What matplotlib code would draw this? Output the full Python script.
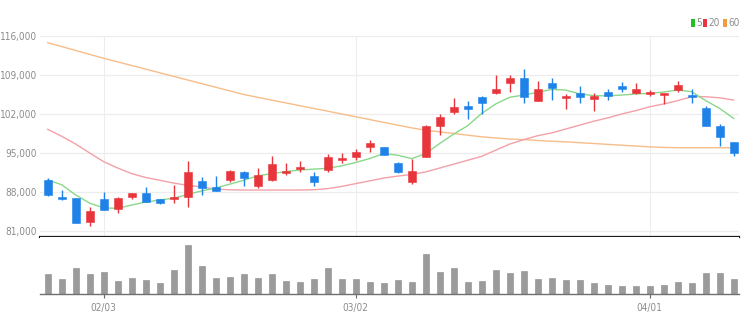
import matplotlib
matplotlib.use("Agg")
import matplotlib.pyplot as plt
from matplotlib import font_manager
from matplotlib.patches import Rectangle
import numpy as np

# ---- data -------------------------------------------------------------
dates = [
    "2022-01-25", "2022-01-26", "2022-01-27", "2022-01-28",
    "2022-02-03", "2022-02-04", "2022-02-07", "2022-02-08", "2022-02-09",
    "2022-02-10", "2022-02-11", "2022-02-14", "2022-02-15", "2022-02-16",
    "2022-02-17", "2022-02-18", "2022-02-21", "2022-02-22", "2022-02-23",
    "2022-02-24", "2022-02-25", "2022-02-28",
    "2022-03-02", "2022-03-03", "2022-03-04", "2022-03-07", "2022-03-08",
    "2022-03-10", "2022-03-11", "2022-03-14", "2022-03-15", "2022-03-16",
    "2022-03-17", "2022-03-18", "2022-03-21", "2022-03-22", "2022-03-23",
    "2022-03-24", "2022-03-25", "2022-03-28", "2022-03-29", "2022-03-30",
    "2022-03-31",
    "2022-04-01", "2022-04-04", "2022-04-05", "2022-04-06", "2022-04-07",
    "2022-04-08", "2022-04-11",
]

open_ = [90100, 87050, 86850, 82550, 86750, 84950, 87150, 87750, 86700, 86700,
         87150, 89950, 88950, 90150, 91650, 89100, 90150, 91450, 92200, 90850,
         91950, 93750, 94250, 96150, 96050, 93250, 89850, 94350, 99900, 102300,
         103500, 105000, 105800, 107600, 108400, 104400, 107500, 104800, 105800, 104750,
         105900, 107050, 105700, 105550, 105350, 106300, 105400, 103000, 99850, 96900]
high = [90500, 88350, 86900, 85250, 88050, 87150, 87900, 88950, 86800, 89250,
        93600, 90750, 90850, 91950, 91850, 92250, 94400, 93150, 93600, 91600,
        94900, 94950, 95650, 97350, 96150, 93300, 93850, 100100, 101950, 104800,
        104350, 105300, 109000, 109000, 110000, 107900, 108400, 105550, 107050, 105700,
        106450, 107800, 107500, 106300, 105850, 107900, 106450, 103450, 100200, 97000]
low = [87300, 86550, 82400, 81900, 84750, 84300, 86750, 86150, 85900, 86100,
       85250, 87450, 88100, 89800, 89100, 88700, 90000, 91050, 91650, 89100,
       91650, 93150, 93800, 95250, 94600, 91450, 89450, 94200, 98250, 102000,
       101050, 102000, 105500, 106000, 103900, 104400, 104500, 102850, 104050, 102600,
       104500, 106000, 105500, 105300, 103800, 106000, 103900, 99850, 96300, 94500]
close = [87500, 86700, 82500, 84650, 84750, 86950, 87850, 86250, 85950, 87050,
         91550, 88750, 88200, 91800, 90450, 91050, 92950, 91750, 92550, 89850,
         94250, 94150, 95250, 96750, 94650, 91500, 91800, 99900, 101400, 103300,
         102850, 104050, 106500, 108400, 105000, 106450, 106600, 105250, 105000, 105250,
         105300, 106450, 106450, 106000, 105700, 107200, 105000, 99850, 97900, 94950]

# trading volume (thousand shares)
volume = [200, 153, 267, 207, 220, 130, 160, 147, 117, 243,
          493, 283, 160, 177, 203, 160, 203, 137, 123, 157,
          260, 157, 157, 123, 110, 140, 127, 403, 223, 260,
          127, 130, 247, 217, 233, 150, 160, 147, 140, 113,
          97, 80, 80, 87, 97, 120, 110, 210, 210, 150]

# moving averages
ma5 = [90150, 89300, 87460, 86000, 85130, 85070, 85660, 86200, 86560, 86870,
       87550, 88200, 88720, 89400, 90100, 90900, 91300, 91650, 91950, 92100,
       92250, 92700, 93300, 94000, 94900, 94600, 93980, 94900, 96700, 98400,
       99900, 102100, 103800, 105000, 105400, 105900, 106400, 106300, 105600, 105300,
       105250, 105400, 105600, 105700, 105950, 106300, 106000, 104400, 103000, 101200]
ma20 = [99250, 98000, 96600, 95000, 93440, 92300, 91300, 90600, 90100, 89600,
        89200, 88900, 88500, 88400, 88350, 88350, 88350, 88350, 88350, 88400,
        88600, 89000, 89500, 90000, 90500, 90850, 91150, 91600, 92300, 93000,
        93700, 94400, 95500, 96600, 97400, 98100, 98600, 99300, 100000, 100700,
        101300, 102000, 102600, 103300, 103800, 104400, 105100, 105100, 104900, 104500]
ma60 = [114800, 114100, 113400, 112700, 112000, 111350, 110700, 110050, 109400, 108750,
        108100, 107450, 106800, 106150, 105500, 105000, 104500, 104000, 103500, 103000,
        102500, 102000, 101500, 101000, 100500, 100000, 99500, 99100, 98800, 98500,
        98200, 97900, 97700, 97500, 97400, 97250, 97100, 97000, 96850, 96700,
        96550, 96400, 96250, 96100, 96000, 95950, 95950, 95950, 95950, 95950]

ma_periods = ["5", "20", "60"]
price_ticks = [81000, 88000, 95000, 102000, 109000, 116000]

# ---- styling ------------------------------------------------------------
UP = "#e8353b"
DOWN = "#1e82e8"
MA_COLORS = ["#8ad88a", "#f3a0a8", "#f7bd8a"]
LEGEND_COLORS = ["#22c022", "#ee3340", "#f39a3c"]
GRID = "#ededed"
LABEL = "#8c8c8c"


def pick_narrow_font():
    """Return FontProperties for a condensed sans face, if one is installed."""
    fonts = font_manager.fontManager.ttflist
    prefs = ["LiberationSansNarrow-Regular", "DejaVuSansCondensed.", "Condensed-Regular",
             "Narrow-Regular", "Condensed", "Narrow"]
    for key in prefs:
        for f in fonts:
            base = f.fname.split("/")[-1]
            if key in base and "Bold" not in base and "Oblique" not in base \
                    and "Italic" not in base and "Mono" not in base and "Serif" not in base:
                return font_manager.FontProperties(fname=f.fname), True
    return font_manager.FontProperties(family="DejaVu Sans"), False


base_fp, is_narrow = pick_narrow_font()
FS = 7.2 if is_narrow else 6.2


def fp():
    p = base_fp.copy()
    p.set_size(FS)
    return p


W, H = 754, 331
fig = plt.figure(figsize=(W / 100, H / 100), dpi=100)
fig.patch.set_facecolor("white")


def fx(px):
    return px / W


def fy(py):
    return 1 - py / H


x = np.arange(len(dates))
xlim = (-0.55, 49.38)

# month-start tick positions and labels
tick_idx = [i for i in range(1, len(dates)) if dates[i][5:7] != dates[i - 1][5:7]]
tick_lbl = [dates[i][5:7] + "/" + dates[i][8:10] for i in tick_idx]

# ---- price panel --------------------------------------------------------
ax = fig.add_axes([fx(40), fy(237), fx(739) - fx(40), fy(36) - fy(237)])
ax.set_xlim(*xlim)
ax.set_ylim(79920, 116000)

o = np.array(open_)
c = np.array(close)
h = np.array(high)
l = np.array(low)
colors = np.where(c >= o, UP, DOWN)

for xi in tick_idx:
    ax.axvline(xi, color=GRID, lw=0.8, zorder=0)
for yt in price_ticks:
    ax.axhline(yt, color=GRID, lw=0.9, zorder=0)

ax.plot(x, ma60, color=MA_COLORS[2], lw=1.0, zorder=2)
ax.plot(x, ma20, color=MA_COLORS[1], lw=1.0, zorder=2)
ax.plot(x, ma5, color=MA_COLORS[0], lw=1.0, zorder=2)

ax.vlines(x, l, h, colors=colors, lw=1.0, zorder=3)
body_bottom = np.minimum(o, c)
body_height = np.maximum(np.abs(c - o), 180)
ax.bar(x, body_height, bottom=body_bottom, width=0.58, color=colors,
       edgecolor=colors, linewidth=0.4, zorder=4)

ax.set_yticks(price_ticks)
ax.set_yticklabels([f"{v:,}" for v in price_ticks], fontproperties=fp())
ax.tick_params(axis="y", length=0, pad=2, labelcolor=LABEL)
ax.set_xticks([])
for s in ["top", "right", "left"]:
    ax.spines[s].set_visible(False)
ax.spines["bottom"].set_color("#1a1a1a")
ax.spines["bottom"].set_linewidth(1.6)

# ---- volume panel -------------------------------------------------------
vax = fig.add_axes([fx(40), fy(294.3), fx(739) - fx(40), fy(237) - fy(294.3)])
vax.set_xlim(*xlim)
vax.set_ylim(0, max(volume) / 0.86)
vax.bar(x, volume, width=0.45, color="#9b9b9b", edgecolor="#8a8a8a", linewidth=0.4)
vax.set_yticks([])
vax.set_xticks(tick_idx)
vax.set_xticklabels(tick_lbl, fontproperties=fp())
vax.tick_params(axis="x", length=3, width=0.8, color="#666666", pad=3.5,
                labelcolor=LABEL)
for s in ["top", "right", "left"]:
    vax.spines[s].set_visible(False)
vax.spines["bottom"].set_color("#707070")
vax.spines["bottom"].set_linewidth(1.0)

# ---- moving-average legend ------------------------------------------------
lx = [691, 703, 723]
for px, label, col in zip(lx, ma_periods, LEGEND_COLORS):
    fig.add_artist(Rectangle((fx(px), fy(27)), fx(3.5), fy(19) - fy(27),
                             transform=fig.transFigure, color=col, lw=0))
    fig.text(fx(px + 5), fy(23.3), label, fontproperties=fp(), color=LABEL,
             ha="left", va="center")

fig.savefig("out.png", dpi=100, facecolor="white")
